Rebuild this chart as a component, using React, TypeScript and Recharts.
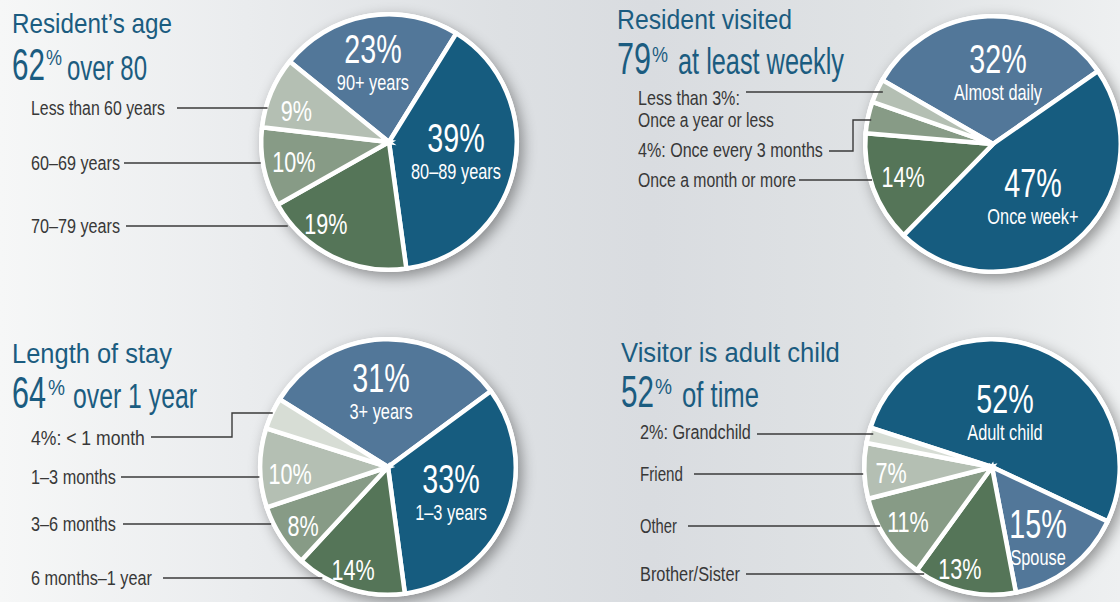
import React from 'react';
import { PieChart, Pie, Cell } from 'recharts';

const W = 1120;
const H = 602;
const FONT = "'Liberation Sans', Arial, Helvetica, sans-serif";
const TITLE_COLOR = '#1b5c80';
const TEXT_COLOR = '#383838';
const LINE_COLOR = '#3a3a3a';

const STEEL = '#527799';
const NAVY = '#165c7f';
const DGREEN = '#557558';
const MGREEN = '#879b86';
const LGREEN = '#b4bfb3';
const PALE = '#d7ddd5';

// ---- Data ----
const AGE_CATEGORIES = ['90+ years', '80–89 years', '70–79 years', '60–69 years', 'Less than 60 years'];
const AGE_VALUES = [23, 39, 19, 10, 9];
const AGE_COLORS = [STEEL, NAVY, DGREEN, MGREEN, LGREEN];

const VISIT_CATEGORIES = ['Almost daily', 'Once week+', 'Once a month or more', '4%: Once every 3 months', 'Less than 3%:\nOnce a year or less'];
const VISIT_VALUES = [32, 47, 14, 4, 3];
const VISIT_COLORS = [STEEL, NAVY, DGREEN, MGREEN, LGREEN];

const STAY_CATEGORIES = ['3+ years', '1–3 years', '6 months–1 year', '3–6 months', '1–3 months', '4%: < 1 month'];
const STAY_VALUES = [31, 33, 14, 8, 10, 4];
const STAY_COLORS = [STEEL, NAVY, DGREEN, MGREEN, LGREEN, PALE];

const VISITOR_CATEGORIES = ['Adult child', 'Spouse', 'Brother/Sister', 'Other', 'Friend', '2%: Grandchild'];
const VISITOR_VALUES = [52, 15, 13, 11, 7, 2];
const VISITOR_COLORS = [NAVY, STEEL, DGREEN, MGREEN, LGREEN, PALE];

const TITLE_LINE1 = ['Resident’s age', 'Resident visited', 'Length of stay', 'Visitor is adult child'];
const TITLE_FIGURES = ['62', '79', '64', '52'];
const TITLE_TAILS = ['over 80', 'at least weekly', 'over 1 year', 'of time'];

// ---- Layout ----
type Side = { x: number; base: number; widths: number[]; lineY: number; x0: number; elbowX?: number; elbowY?: number; inset: number; gap?: number };
type SliceLayout = { inner: 'two' | 'one' | 'none'; lr?: number; da?: number; side?: Side };
type ChartLayout = { cx: number; cy: number; start: number; slices: SliceLayout[] };

const R_OUT = 127.75;
const STROKE = 4.5;

const AGE_LAYOUT: ChartLayout = {
  cx: 389, cy: 142, start: 141,
  slices: [
    { inner: 'two', lr: 80.6, da: 1.9 },
    { inner: 'two', lr: 67.7, da: 3.5 },
    { inner: 'one', lr: 103, da: -11.5, side: { x: 31, base: 233, widths: [89], lineY: 226, x0: 126, inset: -2 } },
    { inner: 'one', lr: 97, da: 0, side: { x: 31, base: 170, widths: [89], lineY: 163, x0: 124, inset: 0 } },
    { inner: 'one', lr: 98, da: 3.8, side: { x: 31, base: 115, widths: [134], lineY: 108, x0: 177, inset: 4 } },
  ],
};

const VISIT_LAYOUT: ChartLayout = {
  cx: 993, cy: 144, start: 150,
  slices: [
    { inner: 'two', lr: 71.2, da: -6.4 },
    { inner: 'two', lr: 66.4, da: -3.2 },
    { inner: 'one', lr: 95.5, da: -0.8, side: { x: 638, base: 187, widths: [158], lineY: 180, x0: 799, inset: 4 } },
    { inner: 'none', side: { x: 638, base: 157, widths: [185], lineY: 151, x0: 829, elbowX: 853, elbowY: 120, inset: 6 } },
    { inner: 'none', side: { x: 638, base: 105, widths: [102, 136], lineY: 92, x0: 746, inset: 9, gap: 22 } },
  ],
};

const STAY_LAYOUT: ChartLayout = {
  cx: 388, cy: 467, start: 148,
  slices: [
    { inner: 'two', lr: 75.3, da: 3.1 },
    { inner: 'two', lr: 68.2, da: 0.6 },
    { inner: 'one', lr: 107.8, da: -1.3, side: { x: 31, base: 585, widths: [121], lineY: 578, x0: 163, inset: 2 } },
    { inner: 'one', lr: 102.9, da: 1.5, side: { x: 31, base: 531, widths: [85], lineY: 524, x0: 123, inset: 0 } },
    { inner: 'one', lr: 98.2, da: 3.1, side: { x: 31, base: 484, widths: [85], lineY: 477, x0: 121, inset: 1 } },
    { inner: 'none', side: { x: 31, base: 445, widths: [114], lineY: 437, x0: 151, elbowX: 232, elbowY: 413, inset: 3 } },
  ],
};

const VISITOR_LAYOUT: ChartLayout = {
  cx: 992, cy: 467, start: 162,
  slices: [
    { inner: 'two', lr: 55.5, da: 8.1 },
    { inner: 'two', lr: 84.6, da: -4.8 },
    { inner: 'one', lr: 106, da: -5, side: { x: 640, base: 581, widths: [100], lineY: 574, x0: 746, inset: 6 } },
    { inner: 'one', lr: 99.9, da: -1.5, side: { x: 640, base: 533, widths: [37], lineY: 526, x0: 688, inset: 4 } },
    { inner: 'one', lr: 101, da: 1, side: { x: 640, base: 481, widths: [43], lineY: 474, x0: 694, inset: 1 } },
    { inner: 'none', side: { x: 640, base: 439, widths: [111], lineY: 434, x0: 757, inset: 7 } },
  ],
};

type TitleLayout = { x: number; base1: number; w1: number; base2: number; wFig: number; pctX: number; pctBase: number; wPct: number; tailX: number; wTail: number };
const TITLE_LAYOUT: TitleLayout[] = [
  { x: 12, base1: 33, w1: 160, base2: 80, wFig: 33, pctX: 46, pctBase: 65, wPct: 16, tailX: 67, wTail: 80 },
  { x: 617, base1: 29, w1: 175, base2: 74, wFig: 34, pctX: 652, pctBase: 62, wPct: 16, tailX: 678, wTail: 166 },
  { x: 12, base1: 363, w1: 160, base2: 408, wFig: 34, pctX: 48, pctBase: 395, wPct: 17, tailX: 73, wTail: 124 },
  { x: 621, base1: 362, w1: 219, base2: 407, wFig: 33, pctX: 655, pctBase: 394, wPct: 17, tailX: 682, wTail: 77 },
];

const RAD = Math.PI / 180;
const polar = (cx: number, cy: number, r: number, a: number) => ({ x: cx + r * Math.cos(a * RAD), y: cy - r * Math.sin(a * RAD) });

const BIG = 41;
const BIG_SX = 0.7;
const SMALL = 30;
const SMALL_SX = 0.72;
const SUB = 21.5;
const SUB_SX = 0.76;
const SIDE_FS = 21;

let measureCtx: CanvasRenderingContext2D | null = null;
function measure(text: string, size: number): number {
  if (typeof document === 'undefined') return text.length * size * 0.5;
  if (!measureCtx) measureCtx = document.createElement('canvas').getContext('2d');
  if (!measureCtx) return text.length * size * 0.5;
  measureCtx.font = `${size}px 'Liberation Sans', Arial, sans-serif`;
  return measureCtx.measureText(text).width || text.length * size * 0.5;
}

// Text squeezed horizontally to a target width (condensed look), baseline at y.
function FitText({ x, y, size, width, fill, children }: { x: number; y: number; size: number; width: number; fill: string; children: string }) {
  const sx = width / measure(children, size);
  return (
    <text transform={`translate(${x},${y}) scale(${sx.toFixed(4)},1)`} x={0} y={0} fontSize={size} fontFamily={FONT} fill={fill}>
      {children}
    </text>
  );
}

function ScaledText({ x, y, size, sx, children }: { x: number; y: number; size: number; sx: number; children: React.ReactNode }) {
  return (
    <text transform={`translate(${x},${y}) scale(${sx},1)`} x={0} y={0} fontSize={size} fontFamily={FONT} fill="#ffffff" textAnchor="middle">
      {children}
    </text>
  );
}

const makeLabel = (layout: ChartLayout) => (props: any) => {
  const { cx, cy, outerRadius, midAngle, index, value } = props;
  const name: string = (props.payload && props.payload.name) || props.name || '';
  const sl = layout.slices[index];
  if (!sl) return <g />;
  const parts: React.ReactNode[] = [];
  if (sl.inner !== 'none') {
    const p = polar(cx, cy, sl.lr || 0, midAngle + (sl.da || 0));
    if (sl.inner === 'two') {
      parts.push(<ScaledText key="n" x={p.x} y={p.y} size={BIG} sx={BIG_SX}>{`${value}%`}</ScaledText>);
      parts.push(<ScaledText key="s" x={p.x} y={p.y + 27} size={SUB} sx={SUB_SX}>{name}</ScaledText>);
    } else {
      parts.push(<ScaledText key="n" x={p.x} y={p.y + 0.358 * SMALL} size={SMALL} sx={SMALL_SX}>{`${value}%`}</ScaledText>);
    }
  }
  if (sl.side) {
    const s = sl.side;
    const R = outerRadius + STROKE / 2;
    const targetY = s.elbowY !== undefined ? s.elbowY : s.lineY;
    const dy = targetY - cy;
    const edgeX = cx - Math.sqrt(Math.max(0, R * R - dy * dy)) + s.inset;
    const pts = s.elbowX !== undefined
      ? `${s.x0},${s.lineY} ${s.elbowX},${s.lineY} ${s.elbowX},${targetY} ${edgeX},${targetY}`
      : `${s.x0},${s.lineY} ${edgeX},${s.lineY}`;
    parts.push(<polyline key="l" points={pts} fill="none" stroke={LINE_COLOR} strokeWidth={1.4} />);
    const lines = name.split('\n');
    lines.forEach((ln, i) => {
      parts.push(
        <FitText key={`t${i}`} x={s.x} y={s.base + i * (s.gap || 22)} size={SIDE_FS} width={s.widths[i]} fill={TEXT_COLOR}>{ln}</FitText>
      );
    });
  }
  return <g>{parts}</g>;
};

const toRows = (cats: string[], vals: number[]) => cats.map((name, i) => ({ name, value: vals[i] }));

const CHARTS = [
  { rows: toRows(AGE_CATEGORIES, AGE_VALUES), colors: AGE_COLORS, layout: AGE_LAYOUT },
  { rows: toRows(VISIT_CATEGORIES, VISIT_VALUES), colors: VISIT_COLORS, layout: VISIT_LAYOUT },
  { rows: toRows(STAY_CATEGORIES, STAY_VALUES), colors: STAY_COLORS, layout: STAY_LAYOUT },
  { rows: toRows(VISITOR_CATEGORIES, VISITOR_VALUES), colors: VISITOR_COLORS, layout: VISITOR_LAYOUT },
];

const DISC = [{ name: 'disc', value: 1 }];

export default function App() {
  return (
    <div style={{ position: 'absolute', left: 0, top: 0, width: W, height: H, overflow: 'hidden',
      background: 'linear-gradient(90deg, #f6f7f7 0%, #eaecee 22%, #dde0e3 45%, #d9dce0 58%, #e0e3e5 80%, #eef0f1 100%)' }}>
      <style>{'body{margin:0}'}</style>
      <div style={{ position: 'absolute', left: 0, top: 0, filter: 'drop-shadow(4px 5px 7px rgba(0,0,0,0.38))' }}>
        <PieChart width={W} height={H} margin={{ top: 0, right: 0, bottom: 0, left: 0 }}>
          {CHARTS.map((c, k) => (
            <Pie key={k} data={DISC} dataKey="value" cx={c.layout.cx} cy={c.layout.cy} outerRadius={R_OUT + STROKE / 2}
              fill="#ffffff" stroke="none" isAnimationActive={false} />
          ))}
        </PieChart>
      </div>
      <div style={{ position: 'absolute', left: 0, top: 0 }}>
        <PieChart width={W} height={H} margin={{ top: 0, right: 0, bottom: 0, left: 0 }}>
          {CHARTS.map((c, k) => (
            <Pie key={k} data={c.rows} dataKey="value" nameKey="name" cx={c.layout.cx} cy={c.layout.cy}
              innerRadius={0} outerRadius={R_OUT} startAngle={c.layout.start} endAngle={c.layout.start - 360}
              stroke="#ffffff" strokeWidth={STROKE} isAnimationActive={false}
              label={makeLabel(c.layout)} labelLine={false}>
              {c.rows.map((r, i) => <Cell key={i} fill={c.colors[i]} stroke="#ffffff" strokeWidth={STROKE} />)}
            </Pie>
          ))}
        </PieChart>
      </div>
      <svg width={W} height={H} style={{ position: 'absolute', left: 0, top: 0, pointerEvents: 'none' }}>
        {TITLE_LAYOUT.map((t, k) => (
          <g key={k}>
            <FitText x={t.x} y={t.base1} size={28} width={t.w1} fill={TITLE_COLOR}>{TITLE_LINE1[k]}</FitText>
            <FitText x={t.x} y={t.base2} size={45} width={t.wFig} fill={TITLE_COLOR}>{TITLE_FIGURES[k]}</FitText>
            <FitText x={t.pctX} y={t.pctBase} size={22} width={t.wPct} fill={TITLE_COLOR}>%</FitText>
            <FitText x={t.tailX} y={t.base2} size={36} width={t.wTail} fill={TITLE_COLOR}>{TITLE_TAILS[k]}</FitText>
          </g>
        ))}
      </svg>
    </div>
  );
}
